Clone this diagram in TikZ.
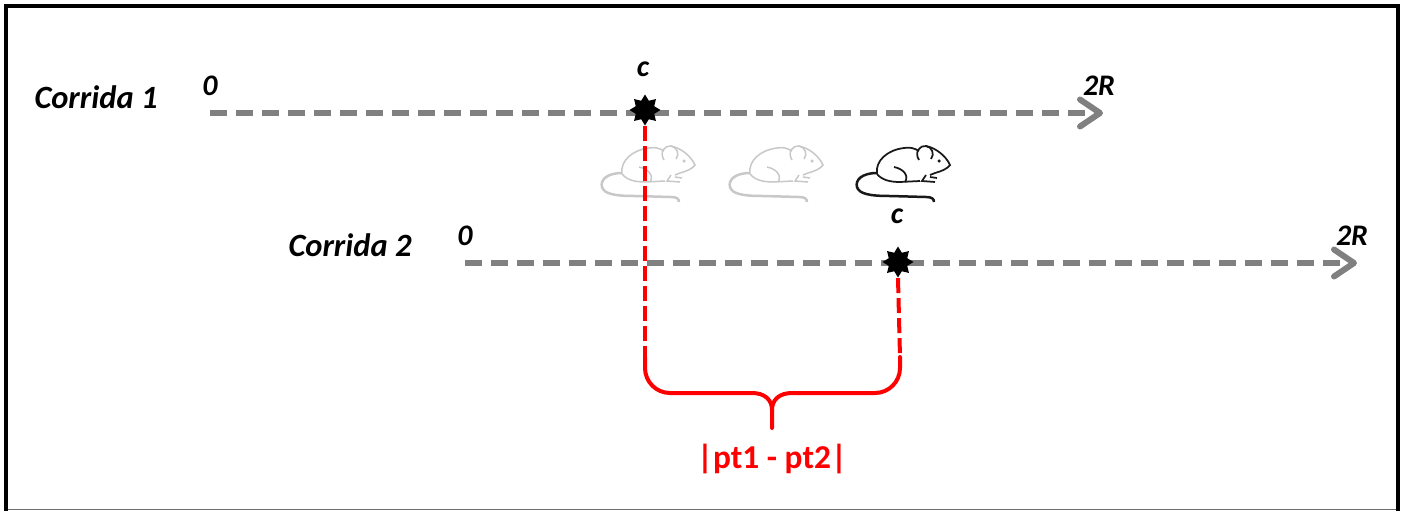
\documentclass[tikz,border=0pt]{standalone}
\usepackage{fontspec}
\setmainfont{Carlito}
\usetikzlibrary{arrows.meta,shapes.geometric}
\definecolor{axisgrey}{RGB}{128,128,128}
\definecolor{framegrey}{RGB}{110,110,110}
\definecolor{ghostmouse}{RGB}{200,200,200}
\definecolor{inkmouse}{RGB}{25,25,25}
\definecolor{pure red}{RGB}{255,0,0}
\tikzset{
  axis/.style={draw=axisgrey, line width=0.12cm, dash pattern=on 0.34cm off 0.18cm,
    -{Straight Barb[length=0.4cm, width=0.54cm, line cap=round, line join=round]}},
  hit/.style={star, star points=8, star point ratio=1.55, fill=black, draw=none,
    minimum size=0.62cm, inner sep=0pt},
  gap/.style={draw=pure red, line width=0.08cm, dash pattern=on 0.3cm off 0.1cm},
  brace/.style={draw=pure red, line width=0.08cm, line cap=round, line join=round},
  run/.style={font=\fontsize{18.5}{20}\selectfont\bfseries\itshape, anchor=base, inner sep=0pt},
  tick/.style={font=\fontsize{17}{19}\selectfont\bfseries\itshape, anchor=base, inner sep=0pt},
  mouse/.pic={
    % tail
    \draw[line width=0.05cm] (27,33) .. controls (12,33) and (5,40) .. (7,47)
      .. controls (9,54) and (20,56) .. (40,56) -- (76,57)
      .. controls (82,57) and (84,59) .. (84,62);
    % back
    \draw (27,34) .. controls (25,21) and (37,10) .. (54,8)
      .. controls (60,7) and (64,8) .. (69,11);
    % ear
    \draw (69,20) .. controls (64,12) and (70,5) .. (76,6)
      .. controls (82,7) and (85,14) .. (81,19);
    % head
    \draw (76,6) .. controls (86,8) and (96,16) .. (100,25)
      .. controls (97,29) and (92,31) .. (85,33) -- (80,35);
    % eye
    \fill (89,21) circle (0.035cm);
    % belly and hind leg
    \draw (27,34) .. controls (32,40) and (40,42) .. (50,42) -- (70,41);
    \draw (44,27) .. controls (54,29) and (59,36) .. (55,42);
    % front paws
    \draw (76,35) -- (72,41) -- (85,42);
    \draw (80,37) -- (87,38);
  }
}
\begin{document}
\begin{tikzpicture}[x=0.02cm, y=-0.02cm]
\useasboundingbox (0,0) rectangle (1403,511);

% frame
\draw[framegrey, line width=0.03cm] (6,509.5) -- (1398,509.5);
\draw[black, line width=0.08cm, line join=miter] (6,511) -- (6,6) -- (1398,6) -- (1398,511);

% run 1
\coordinate (a1) at (210,113);
\coordinate (e1) at (1103,113);
\draw[axis] (a1) -- (e1);
\node[run] (r1) at (96,108) {Corrida 1};
\node[tick] (z1) at (210,95) {0};
\node[tick] (t1) at (1099,95) {2R};

% run 2
\coordinate (a2) at (465,263);
\coordinate (e2) at (1357,263);
\draw[axis] (a2) -- (e2);
\node[run] (r2) at (350,256) {Corrida 2};
\node[tick] (z2) at (465,245) {0};
\node[tick] (t2) at (1352,245) {2R};

% mice
\begin{scope}[color=ghostmouse, line width=0.03cm]
  \pic at (595,140) {mouse};
  \pic at (723,140) {mouse};
\end{scope}
\begin{scope}[color=inkmouse, line width=0.035cm]
  \pic at (850,140) {mouse};
\end{scope}

% crossing points
\node[hit] (s1) at (645,110) {};
\node[hit] (s2) at (898,262) {};
\node[tick] (c1) at (643,76) {c};
\node[tick] (c2) at (897,223) {c};

% distance between crossings
\coordinate (b1) at (645,357);
\coordinate (b2) at (900,357);
\draw[gap] (s1.south) -- (b1);
\draw[gap] (s2.south) -- (b2);
\coordinate (tip) at (772,428);
\draw[brace] (b1) -- (645,368) arc[start angle=180, end angle=270, radius=0.5cm]
  -- (752,393) .. controls (765,393) and (772,400) .. (772,410) -- (tip);
\draw[brace] (b2) -- (900,368) arc[start angle=0, end angle=-90, radius=0.5cm]
  -- (792,393) .. controls (779,393) and (772,400) .. (772,410);
\node[font=\fontsize{19}{21}\selectfont\bfseries, text=pure red, anchor=base, inner sep=0pt]
  (d) at (772,468) {|pt1 - pt2|};
\end{tikzpicture}
\end{document}
